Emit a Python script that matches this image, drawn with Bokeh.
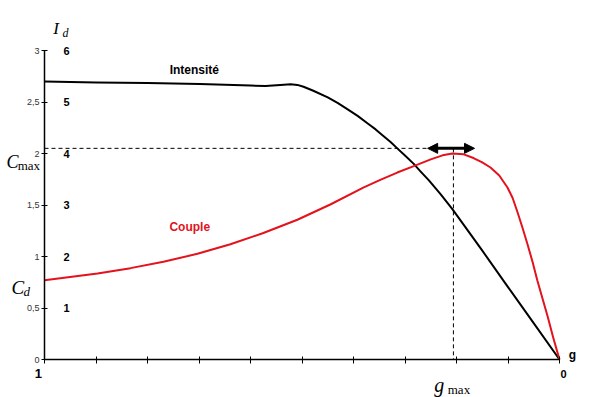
from bokeh.plotting import figure
from bokeh.models import Range1d, FixedTicker, Label, Arrow, NormalHead
from bokeh.embed import file_html
from bokeh.resources import INLINE

# ---- data (slip g, values in left-axis units) ----
slip_I = [1.000, 0.899, 0.800, 0.699, 0.600, 0.571, 0.542, 0.522, 0.509, 0.497,
          0.478, 0.450, 0.431, 0.412, 0.392, 0.373, 0.357, 0.342, 0.328, 0.315,
          0.299, 0.283, 0.270, 0.254, 0.231, 0.208, 0.153, 0.101, 0.056, 0.000]
intensite = [2.699, 2.689, 2.684, 2.675, 2.660, 2.655, 2.665, 2.672, 2.666, 2.648,
             2.609, 2.545, 2.491, 2.431, 2.365, 2.294, 2.234, 2.170, 2.112, 2.050,
             1.976, 1.899, 1.827, 1.741, 1.605, 1.460, 1.079, 0.710, 0.395, 0.000]

slip_C = [1.000, 0.897, 0.833, 0.769, 0.703, 0.639, 0.575, 0.509, 0.445, 0.381,
          0.348, 0.315, 0.283, 0.250, 0.227, 0.208, 0.186, 0.167, 0.150, 0.134,
          0.117, 0.101, 0.091, 0.082, 0.072, 0.062, 0.052, 0.043, 0.033, 0.023,
          0.012, 0.000]
couple = [0.770, 0.834, 0.887, 0.949, 1.026, 1.119, 1.228, 1.357, 1.505, 1.668,
          1.744, 1.815, 1.877, 1.943, 1.982, 2.001, 1.992, 1.956, 1.913, 1.864,
          1.786, 1.670, 1.568, 1.437, 1.282, 1.117, 0.942, 0.767, 0.592, 0.417,
          0.209, 0.000]

y_ticks = [0, 0.5, 1, 1.5, 2, 2.5, 3]
y_tick_labels = ["0", "0,5", "1", "1,5", "2", "2,5", "3"]
x_ticks = [0.0, 0.1, 0.2, 0.3, 0.4, 0.5, 0.6, 0.7, 0.8, 0.9, 1.0]
current_scale_pos = [0.5, 1, 1.5, 2, 2.5, 3]
current_scale_labels = ["1", "2", "3", "4", "5", "6"]

g_max = 0.206
c_max = 2.05
arrow_span = [0.256, 0.165]

RED = "#e3121c"
SANS = "Liberation Sans"
SERIF = "Liberation Serif"

W, H = 595, 397
# frame spans the whole canvas; axes are pinned inside with fixed_location
p = figure(width=W, height=H,
           x_range=Range1d(559 / 515, (559 - W) / 515),
           y_range=Range1d((359 - H) / 103, 359 / 103),
           output_backend="svg", toolbar_location=None, min_border=0)
p.outline_line_color = None
p.xgrid.visible = False
p.ygrid.visible = False
p.background_fill_color = "white"
p.border_fill_color = "white"

# y axis
ya = p.yaxis[0]
ya.fixed_location = 1.0
ya.bounds = (0, 3)
ya.ticker = FixedTicker(ticks=y_ticks, minor_ticks=[])
ya.major_label_overrides = {t: s for t, s in zip(y_ticks, y_tick_labels)}
ya.major_tick_in = 3
ya.major_tick_out = 3
ya.major_tick_line_color = "black"
ya.axis_line_color = "black"
ya.axis_line_width = 1.5
ya.major_label_text_font = SANS
ya.major_label_text_font_size = "9px"
ya.major_label_text_color = "#333333"
ya.major_label_standoff = 2

# x axis
xa = p.xaxis[0]
xa.fixed_location = 0.0
xa.bounds = (0, 1)
xa.ticker = FixedTicker(ticks=x_ticks, minor_ticks=[])
xa.major_label_overrides = {t: "" for t in x_ticks}
xa.major_tick_in = 3
xa.major_tick_out = 4
xa.major_tick_line_color = "black"
xa.axis_line_color = "black"
xa.axis_line_width = 1.5

# curves
p.line(slip_I, intensite, line_color="black", line_width=2, line_join="round")
p.line(slip_C, couple, line_color=RED, line_width=2, line_join="round")

# dashed guides
p.line([1, g_max], [c_max, c_max], line_color="black", line_width=1, line_dash="4 3")
p.line([g_max, g_max], [c_max, 0], line_color="black", line_width=1, line_dash="4 3")

# double arrow
p.add_layout(Arrow(start=NormalHead(size=10, fill_color="black", line_color="black"),
                   end=NormalHead(size=10, fill_color="black", line_color="black"),
                   x_start=arrow_span[0], y_start=c_max,
                   x_end=arrow_span[1], y_end=c_max,
                   line_width=3, line_color="black"))


def lab(x, y, text, font=SANS, size="12px", style="bold", color="black",
        align="center", baseline="middle"):
    p.add_layout(Label(x=x, y=y, text=text, text_font=font, text_font_size=size,
                       text_font_style=style, text_color=color,
                       text_align=align, text_baseline=baseline))


# curve names
lab(0.709, 2.806, "Intensité")
lab(0.718, 1.282, "Couple", color=RED)

# secondary (current) scale
for v, s in zip(current_scale_pos, current_scale_labels):
    lab(0.957, v, s, size="11px")

# x-axis end labels
lab(1.012, -0.136, "1", size="13px")
lab(-0.008, -0.136, "0", size="11px")
lab(-0.025, 0.04, "g", size="12px")

# math-like labels
lab(0.983, 3.214, "I", font=SERIF, size="17px", style="italic", align="left", baseline="alphabetic")
lab(0.965, 3.170, "d", font=SERIF, size="12px", style="italic", align="left", baseline="alphabetic")
lab(1.074, 1.922, "C", font=SERIF, size="18px", style="italic", align="left", baseline="alphabetic")
lab(1.052, 1.883, "max", font=SERIF, size="13px", style="normal", align="left", baseline="alphabetic")
lab(1.064, 0.699, "C", font=SERIF, size="19px", style="italic", align="left", baseline="alphabetic")
lab(1.041, 0.660, "d", font=SERIF, size="13px", style="italic", align="left", baseline="alphabetic")
lab(0.243, -0.243, "g", font=SERIF, size="20px", style="italic", align="left", baseline="alphabetic")
lab(0.217, -0.291, "max", font=SERIF, size="13px", style="normal", align="left", baseline="alphabetic")

open("out.html", "w").write(file_html(p, INLINE))
